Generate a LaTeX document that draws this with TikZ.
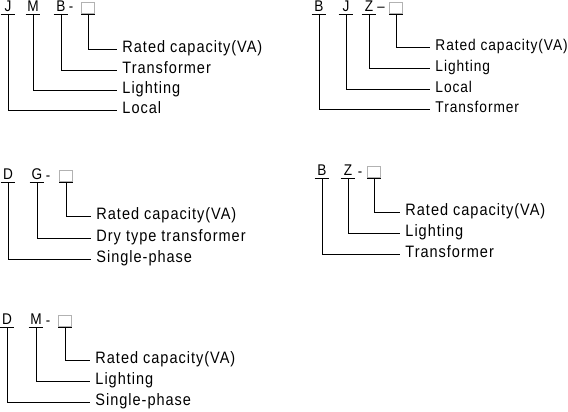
\documentclass[tikz,border=0pt]{standalone}
\usepackage{fontspec}
\setmainfont{Liberation Sans}[FakeStretch=0.88, LetterSpace=6]
\tikzset{
  code/.style={font=\fontsize{15.5}{18}\selectfont, inner sep=0pt, minimum width=14pt, text height=10pt, text depth=2pt, anchor=south},
  slot/.style={draw=gray!60, line width=0.8pt, inner sep=0pt, minimum width=13pt, minimum height=11pt, anchor=south},
  hyph/.style={font=\fontsize{15}{18}\selectfont, inner sep=0pt, anchor=base},
  meaning/.style={anchor=west, inner xsep=5pt, inner ysep=0pt, text height=11pt, text depth=4pt}
}
\begin{document}
\begin{tikzpicture}[x=1pt, y=-1pt, line width=0.9pt, font=\fontsize{16.5}{19}\selectfont]
        \useasboundingbox (0,0) rectangle (568,412);
        % JMB
        \node[code] (j1) at (8,14) {J};
        \node[code] (m1) at (33,14) {M};
        \node[code] (b1) at (61,14) {B};
        \node[hyph] (h1) at (71,12) {-};
        \node[slot] (q1) at (88,14) {};
        \node[meaning] (rated1) at (117,49) {Rated capacity(VA)};
        \node[meaning] (trans1) at (117,70) {Transformer};
        \node[meaning] (light1) at (117,90) {Lighting};
        \node[meaning] (local1) at (117,110) {Local};
        \draw (q1.south) |- (rated1.west);
        \draw (b1.south) |- (trans1.west);
        \draw (m1.south) |- (light1.west);
        \draw (j1.south) |- (local1.west);
        % BJZ
        \begin{scope}[font=\fontsize{15.6}{18}\selectfont]
        \node[code] (b2) at (319,14) {B};
        \node[code] (j2) at (346,14) {J};
        \node[code] (z2) at (369,14) {Z};
        \node[hyph] (h2) at (381,12) {–};
        \node[slot] (q2) at (396,14) {};
        \node[meaning] (rated2) at (430,47) {Rated capacity(VA)};
        \node[meaning] (light2) at (430,68) {Lighting};
        \node[meaning] (local2) at (430,89) {Local};
        \node[meaning] (trans2) at (430,109) {Transformer};
        \draw (q2.south) |- (rated2.west);
        \draw (z2.south) |- (light2.west);
        \draw (j2.south) |- (local2.west);
        \draw (b2.south) |- (trans2.west);
        \end{scope}
        % DG
        \node[code] (d3) at (8,182) {D};
        \node[code] (g3) at (37,182) {G};
        \node[hyph] (h3) at (48,180) {-};
        \node[slot] (q3) at (66,182) {};
        \node[meaning] (rated3) at (91,216) {Rated capacity(VA)};
        \node[meaning] (dry3) at (91,238) {Dry type transformer};
        \node[meaning] (single3) at (91,259) {Single-phase};
        \draw (q3.south) |- (rated3.west);
        \draw (g3.south) |- (dry3.west);
        \draw (d3.south) |- (single3.west);
        % BZ
        \node[code] (b4) at (322,178) {B};
        \node[code] (z4) at (348,178) {Z};
        \node[hyph] (h4) at (360,176) {-};
        \node[slot] (q4) at (374,178) {};
        \node[meaning] (rated4) at (400,212) {Rated capacity(VA)};
        \node[meaning] (light4) at (400,233) {Lighting};
        \node[meaning] (trans4) at (400,254) {Transformer};
        \draw (q4.south) |- (rated4.west);
        \draw (z4.south) |- (light4.west);
        \draw (b4.south) |- (trans4.west);
        % DM
        \node[code] (d5) at (7,327) {D};
        \node[code] (m5) at (36,327) {M};
        \node[hyph] (h5) at (48,325) {-};
        \node[slot] (q5) at (65,327) {};
        \node[meaning] (rated5) at (90,360) {Rated capacity(VA)};
        \node[meaning] (light5) at (90,381) {Lighting};
        \node[meaning] (single5) at (90,402) {Single-phase};
        \draw (q5.south) |- (rated5.west);
        \draw (m5.south) |- (light5.west);
        \draw (d5.south) |- (single5.west);
        % underlines
        \foreach \n in {j1,m1,b1,q1,b2,j2,z2,q2,d3,g3,q3,b4,z4,q4,d5,m5,q5}
            \draw (\n.south west) -- (\n.south east);
    \end{tikzpicture}
\end{document}
